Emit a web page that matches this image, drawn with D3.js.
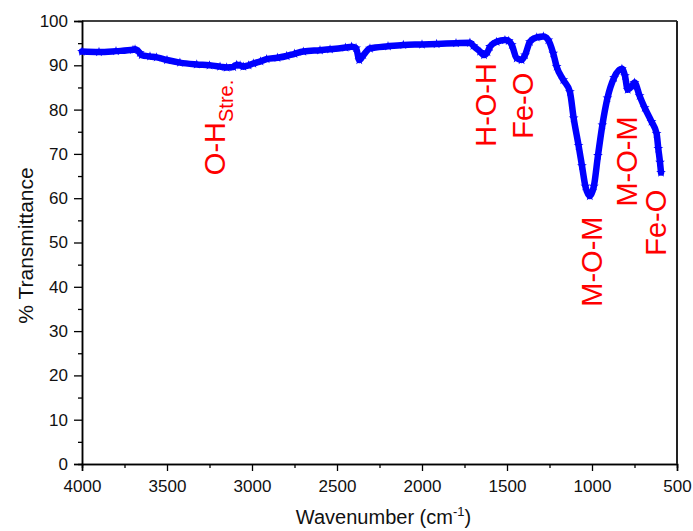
<!DOCTYPE html>
<html>
<head>
<meta charset="utf-8">
<script src="https://cdn.jsdelivr.net/npm/d3@7"></script>
<style>
  body { margin: 0; background: #fff; }
  svg { display: block; font-family: "Liberation Sans", Arial, sans-serif; }
</style>
</head>
<body>
<div id="chart"></div>
<script>
// FTIR spectrum
const wavenumber = [4000, 3900, 3800, 3700, 3688, 3660, 3649, 3600, 3561, 3500, 3424, 3325, 3250, 3188, 3149,
  3110, 3090, 3070, 3051, 3020, 2992, 2950, 2914, 2850, 2796, 2750, 2698, 2600, 2541, 2450, 2414, 2388, 2369,
  2345, 2306, 2200, 2110, 2000, 1914, 1800, 1718, 1698, 1659, 1635, 1615, 1600, 1561, 1512, 1490, 1472, 1443,
  1414, 1394, 1365, 1325, 1286, 1257, 1228, 1208, 1169, 1130, 1108, 1079, 1059, 1039, 1013, 989, 965, 939, 909,
  870, 824, 806, 790, 766, 750, 720, 690, 650, 620, 610, 600, 594];
const transmittance = [93.1, 93.0, 93.2, 93.5, 93.6, 92.8, 92.3, 92.0, 91.8, 91.2, 90.6, 90.2, 90.0, 89.7, 89.5,
  89.6, 90.1, 90.0, 89.7, 90.0, 90.4, 90.9, 91.4, 91.7, 92.1, 92.6, 93.1, 93.4, 93.6, 94.0, 94.2, 93.9, 91.2,
  92.3, 93.8, 94.3, 94.6, 94.7, 94.8, 95.0, 95.1, 94.4, 93.1, 92.3, 93.0, 94.2, 95.3, 95.7, 95.5, 94.6, 91.6,
  91.2, 92.3, 95.3, 96.3, 96.5, 95.7, 92.7, 89.7, 86.7, 84.0, 78.1, 71.9, 67.3, 62.7, 60.5, 62.7, 69.6, 76.5, 82.6,
  87.2, 89.2, 87.6, 84.5, 85.3, 86.1, 83.1, 80.4, 77.3, 74.6, 71.2, 68.1, 65.8];

const xTicks = [4000, 3500, 3000, 2500, 2000, 1500, 1000, 500];
const xMinor = [3750, 3250, 2750, 2250, 1750, 1250, 750];
const yTicks = [0, 10, 20, 30, 40, 50, 60, 70, 80, 90, 100];
const yMinor = [5, 15, 25, 35, 45, 55, 65, 75, 85, 95];

// band labels: text, subscript, wavenumber at baseline, % at text start
const bandText = ['O-H', 'H-O-H', 'Fe-O', 'M-O-M', 'M-O-M', 'Fe-O'];
const bandSub = ['Stre.', '', '', '', '', ''];
const bandWave = [3160, 1565, 1347, 943, 738, 565];
const bandStart = [65.2, 71.6, 73.4, 35.5, 58.1, 47.0];

const width = 693, height = 531;
const margin = { top: 21, right: 16, bottom: 67, left: 82 };
const iw = width - margin.left - margin.right;
const ih = height - margin.top - margin.bottom;

const svg = d3.select('#chart').append('svg')
  .attr('width', width)
  .attr('height', height);

const g = svg.append('g').attr('transform', `translate(${margin.left},${margin.top})`);

const x = d3.scaleLinear().domain([4000, 500]).range([0, iw]);
const y = d3.scaleLinear().domain([0, 100]).range([ih, 0]);

// axes
g.append('g').attr('transform', `translate(0,${ih})`)
  .call(d3.axisBottom(x).tickValues(xTicks).tickSize(7).tickPadding(9).tickFormat(d3.format('d')));
g.append('g').attr('transform', `translate(0,${ih})`)
  .call(d3.axisBottom(x).tickValues(xMinor).tickSize(4).tickFormat(''));
g.append('g')
  .call(d3.axisLeft(y).tickValues(yTicks).tickSize(8).tickPadding(6));
g.append('g')
  .call(d3.axisLeft(y).tickValues(yMinor).tickSize(4).tickFormat(''));

g.selectAll('.domain').attr('stroke', '#000').attr('stroke-width', 1.5);
g.selectAll('.tick line').attr('stroke', '#000').attr('stroke-width', 1.3);
g.selectAll('.tick text').attr('font-size', 17).attr('fill', '#111')
  .attr('font-family', '"Liberation Sans", Arial, sans-serif');

// top and right frame
g.append('line').attr('x1', 0).attr('x2', iw).attr('y1', 0).attr('y2', 0)
  .attr('stroke', '#000').attr('stroke-width', 1.5);
g.append('line').attr('x1', iw).attr('x2', iw).attr('y1', 0).attr('y2', ih)
  .attr('stroke', '#222').attr('stroke-width', 2);

// spectrum
const points = wavenumber.map((w, i) => ({ w: w, t: transmittance[i] }));

g.append('path')
  .datum(points)
  .attr('fill', 'none')
  .attr('stroke', '#0000ff')
  .attr('stroke-width', 6.5)
  .attr('stroke-linejoin', 'round')
  .attr('stroke-linecap', 'round')
  .attr('d', d3.line().x(d => x(d.w)).y(d => y(d.t)).curve(d3.curveMonotoneX));

g.selectAll('path.star')
  .data(points)
  .enter().append('path')
  .attr('class', 'star')
  .attr('transform', d => `translate(${x(d.w)},${y(d.t)})`)
  .attr('d', d3.symbol(d3.symbolStar, 30))
  .attr('fill', '#0000ff');

// band labels
bandText.forEach((txt, i) => {
  const t = g.append('text')
    .attr('transform', `translate(${x(bandWave[i])},${y(bandStart[i])}) rotate(-90)`)
    .attr('fill', '#ff0000')
    .attr('font-size', 29)
    .text(txt);
  if (bandSub[i]) {
    t.append('tspan')
      .attr('font-size', 20)
      .attr('dy', 8)
      .text(bandSub[i]);
  }
});

// axis titles
const xt = svg.append('text')
  .attr('x', margin.left + iw / 2 + 4)
  .attr('y', 524)
  .attr('text-anchor', 'middle')
  .attr('font-size', 20)
  .attr('fill', '#111')
  .text('Wavenumber (cm');
xt.append('tspan').attr('font-size', 13).attr('dy', -8).text('-1');
xt.append('tspan').attr('dy', 8).text(')');

svg.append('text')
  .attr('transform', `translate(33,${margin.top + ih / 2 + 3}) rotate(-90)`)
  .attr('text-anchor', 'middle')
  .attr('font-size', 21)
  .attr('fill', '#111')
  .text('% Transmittance');
</script>
</body>
</html>
